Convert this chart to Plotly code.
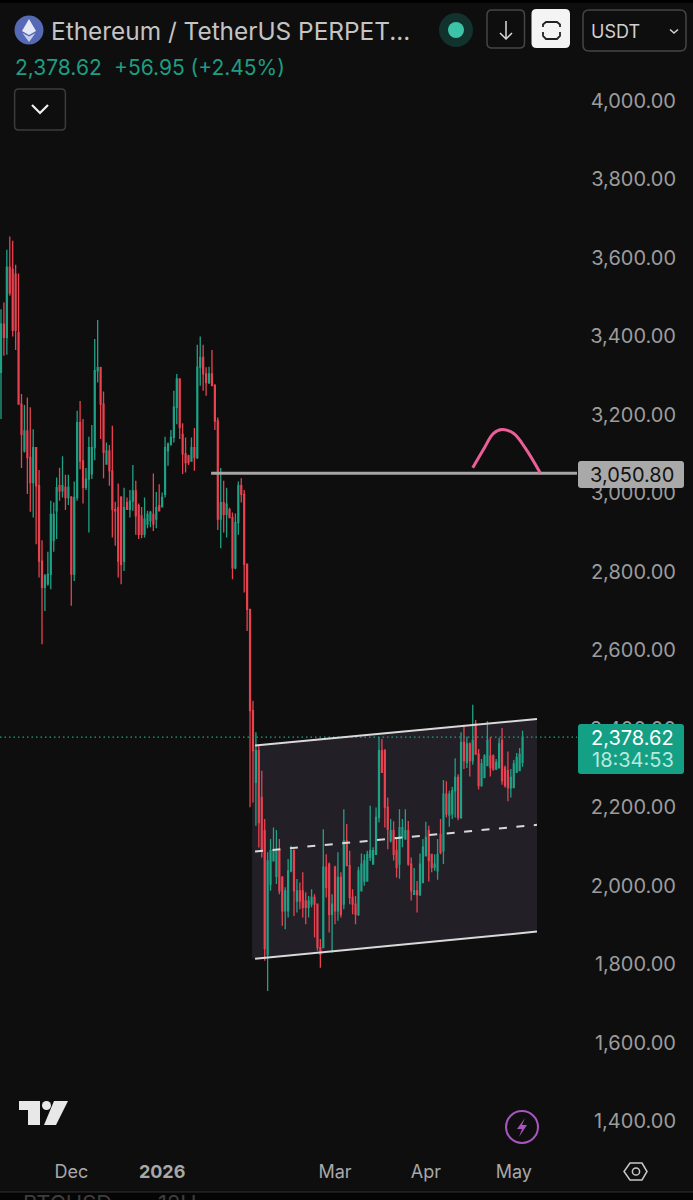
import pandas as pd
import plotly.graph_objects as go

W, H = 693, 1200
BG = "#0e0e0e"; GREEN = "#1fa186"; RED = "#e8414f"; TICK = "#9c9c9c"
FONT = "Inter"

opens = [3308,3431,3397,3576,3570,3558,3409,3227,3108,3159,3091,3027,3116,3019,2827,2760,2769,2793,2880,2955,3019,3006,3015,2989,2989,2794,2989,3180,3082,3015,3036,3049,3116,3312,3320,3227,3074,3108,3057,2959,2963,2989,2827,2976,2959,
 2980,3006,2968,2942,2895,2921,2930,2946,2934,2968,2965,2997,3108,3125,3142,3219,3291,3150,3100,3095,3082,3116,3091,3321,3346,3304,3282,3304,3274,3184,2934,2976,2946,2958,2938,2810,2925,3019,2997,2819,2704,
 2446,2263,2344,2225,2140,1825,2004,2063,2024,2089,2021,1936,1936,2038,2089,1961,1987,1987,1961,1945,1953,1970,1953,1842,1842,2047,2055,1927,2047,1936,2021,1953,2114,2051,1970,1953,1927,1987,2012,2012,2072,2055,2080,2174,2344,2344,2200,
 2115,2140,2089,2055,2123,2119,2140,2055,1978,1987,1977,2008,2076,2140,2080,2047,2038,2131,2089,2233,2180,2183,2242,2276,2174,2365,2314,2361,2319,2412,2335,2255,2276,2306,2331,2331,2297,2300,2370,2301,2293,2249,2250,2289,2293,2314]
highs = [3469,3486,3620,3654,3643,3582,3560,3253,3225,3244,3219,3163,3118,3059,2880,2794,2851,2981,2976,3040,3065,3094,3047,3047,2993,3030,3210,3235,3189,3064,3144,3174,3393,3441,3322,3259,3129,3123,3172,2978,3025,2993,3014,2989,3008,
 3072,3032,2974,2965,2989,2955,2955,3050,3003,3023,3002,3144,3129,3161,3261,3304,3291,3178,3142,3098,3142,3166,3378,3399,3378,3321,3322,3365,3278,3193,3064,3032,3014,2963,2951,2948,3030,3038,3008,2821,2704,
 2471,2391,2357,2293,2170,2085,2119,2148,2142,2119,2025,1996,2068,2102,2093,2017,2008,2034,1983,1974,1991,1978,1953,1864,2144,2080,2059,1978,2051,2085,2034,2195,2157,2089,1991,1974,2048,2082,2080,2089,2204,2098,2199,2378,2374,2348,2225,
 2170,2164,2123,2195,2170,2195,2165,2072,2045,2012,2082,2119,2163,2153,2080,2080,2119,2170,2269,2266,2242,2252,2325,2284,2391,2410,2380,2365,2461,2422,2348,2323,2335,2419,2378,2334,2323,2376,2402,2306,2342,2297,2320,2338,2351,2395]
lows = [3189,3350,3353,3503,3399,3365,3227,3064,3104,2998,2953,2938,2870,2785,2615,2700,2764,2755,2851,2883,2981,2989,2957,2970,2713,2776,2981,3061,2974,3008,2900,3036,3084,3282,3138,3038,3074,3019,2887,2866,2785,2768,2802,2959,2938,
 2955,2894,2883,2885,2887,2911,2913,2904,2911,2955,2965,2989,3070,3121,3129,3176,3138,3049,3053,3072,3081,3057,3087,3274,3261,3248,3278,3274,3161,2906,2860,2900,2887,2938,2781,2806,2894,2976,2747,2649,2200,
 2212,2153,2097,2072,1809,1732,1987,2063,2004,1978,1898,1889,1919,2034,1923,1932,1940,1919,1902,1919,1945,1868,1834,1791,1842,1970,1881,1830,1902,1911,1919,1940,2051,1953,1927,1902,1923,1987,2000,2012,2063,2055,2080,2161,2289,2148,2093,
 2110,2064,2021,2018,2098,2119,2051,1962,1978,1932,1974,2006,2076,2011,2034,2038,2015,2080,2055,2174,2150,2170,2174,2167,2170,2297,2300,2278,2308,2334,2245,2252,2274,2306,2278,2293,2295,2300,2257,2250,2215,2225,2250,2289,2293,2303]
closes = [3431,3397,3576,3510,3415,3415,3227,3150,3159,3091,3027,3116,3019,2827,2760,2789,2793,2946,2946,3014,3006,3019,2989,3015,2794,2989,3180,3082,3015,3036,3116,3116,3312,3320,3227,3104,3108,3057,2959,2955,2827,2819,2963,2959,2980,
 3006,2942,2895,2895,2934,2946,2951,2921,2963,2955,2989,3116,3125,3142,3219,3291,3168,3100,3078,3078,3116,3091,3321,3346,3304,3282,3304,3274,3184,2934,2976,2946,2972,2938,2810,2925,3019,2997,2819,2704,2446,
 2344,2344,2161,2089,1840,2063,2089,2089,2089,1987,1936,1987,2038,2089,1987,1987,1961,1945,1945,1961,1970,1953,1842,1825,2047,1996,1927,1953,1936,2021,1927,2114,2051,1970,1953,1927,2038,2055,2063,2080,2089,2089,2174,2344,2289,2200,2144,
 2140,2080,2047,2148,2148,2140,2055,1987,1987,1977,2055,2098,2123,2064,2047,2055,2080,2084,2233,2183,2233,2242,2276,2174,2365,2319,2361,2319,2370,2335,2255,2310,2331,2370,2301,2297,2314,2361,2267,2255,2250,2276,2310,2327,2335,2378.62]
dates = pd.date_range("2025-11-07", periods=len(opens), freq="D")

price_ticks = [1400,1600,1800,2000,2200,2400,2600,2800,3000,3200,3400,3600,3800,4000]
time_ticks = ["2025-12-01","2026-01-01","2026-03-01","2026-04-01","2026-05-01"]
time_labels = ["Dec","<b>2026</b>","Mar","Apr","May"]

level_price = 3050.80
last_price = 2378.62
line_span = ["2026-01-17T17:00","2026-05-22T14:00"]
last_span = ["2025-11-06T16:00","2026-05-22T14:00"]
channel_x = ["2026-02-01T17:00","2026-05-08T22:00"]
channel_top = [2357,2425]
channel_mid = [2087,2155]
channel_bot = [1814,1883]
fill_x = ["2026-01-31_17:00","2026-05-08_22:00"]
arc_x = ["2026-04-17","2026-04-21","2026-04-24","2026-04-27","2026-05-01","2026-05-05","2026-05-10"]
arc_y = [3065,3116,3152,3162,3152,3114,3052]

def px(x): return x / W
def py(y): return 1 - y / H

fig = go.Figure()
fig.add_trace(go.Candlestick(
    x=dates, open=opens, high=highs, low=lows, close=closes, whiskerwidth=0,
    increasing=dict(line=dict(color=GREEN, width=1.3), fillcolor=GREEN),
    decreasing=dict(line=dict(color=RED, width=1.3), fillcolor=RED),
    showlegend=False))
LN = "#d9d9d9"
fig.add_trace(go.Scatter(x=last_span, y=[last_price]*2, mode="lines", line=dict(color="#1fa186", width=1.2, dash="1.5px 3px"), showlegend=False))
fig.add_trace(go.Scatter(x=channel_x, y=channel_top, mode="lines", line=dict(color=LN, width=2), showlegend=False))
fig.add_trace(go.Scatter(x=channel_x, y=channel_bot, mode="lines", line=dict(color=LN, width=2), showlegend=False))
fig.add_trace(go.Scatter(x=channel_x, y=channel_mid, mode="lines", line=dict(color=LN, width=2, dash="8px 9.5px"), showlegend=False))
fig.add_trace(go.Scatter(x=line_span, y=[level_price]*2, mode="lines", line=dict(color="#a6a6a6", width=3), showlegend=False))
fig.add_trace(go.Scatter(x=arc_x, y=arc_y, mode="lines", line=dict(color="#ea5f98", width=3, shape="spline"), showlegend=False))

shapes = []
# channel fill, under the candles
shapes.append(dict(type="path", layer="below", xref="x", yref="y", line=dict(width=0), fillcolor="#231f27",
    path=f"M {fill_x[0]},{channel_top[0]} L {fill_x[1]},{channel_top[1]} L {fill_x[1]},{channel_bot[1]} L {fill_x[0]},{channel_bot[0]} Z"))

def P(pts, close=True):
    s = " ".join(("M" if i == 0 else "L") + f" {px(x):.5f},{py(y):.5f}" for i, (x, y) in enumerate(pts))
    return s + (" Z" if close else "")

def rrect(x0, y0, x1, y1, r):
    f = lambda x, y: f"{px(x):.5f},{py(y):.5f}"
    return (f"M {f(x0+r,y0)} L {f(x1-r,y0)} Q {f(x1,y0)} {f(x1,y0+r)} L {f(x1,y1-r)} Q {f(x1,y1)} {f(x1-r,y1)} "
            f"L {f(x0+r,y1)} Q {f(x0,y1)} {f(x0,y1-r)} L {f(x0,y0+r)} Q {f(x0,y0)} {f(x0+r,y0)} Z")

def add_path(path, fill=None, color=None, width=0):
    d = dict(type="path", xref="paper", yref="paper", layer="above", path=path, line=dict(width=width, color=color or "rgba(0,0,0,0)"))
    if fill: d["fillcolor"] = fill
    shapes.append(d)

def circle(cx, cy, r, fill=None, color=None, width=0):
    d = dict(type="circle", xref="paper", yref="paper", layer="above", x0=px(cx-r), x1=px(cx+r), y0=py(cy+r), y1=py(cy-r),
             line=dict(width=width, color=color or "rgba(0,0,0,0)"))
    if fill: d["fillcolor"] = fill
    shapes.append(d)

# price tags
add_path(rrect(578, 461, 684, 488, 3), fill="#a9a9a9")
add_path(rrect(578, 724, 684, 774, 3), fill="#14a085")
# top and bottom edges
add_path(P([(0,0),(W,0),(W,3),(0,3)]), fill="#000000")
add_path(P([(0,1192),(W,1192),(W,H),(0,H)]), fill="#050505")
add_path(P([(0,1192),(W,1192)], close=False), color="#333333", width=1)
# ethereum logo
circle(29, 30, 14.5, fill="#5569b5")
add_path(P([(29,19),(36,31),(29,35),(22,31)]), fill="#e6e9f5")
add_path(P([(29,36.5),(35.5,33),(29,42),(22.5,33)]), fill="#c9cfea")
# live dot
circle(456, 30, 17, fill="#12322d")
circle(456, 30, 8, fill="#3cc4a9")
# down button
add_path(rrect(487, 10, 524.5, 48, 5), color="#454545", width=1.5)
add_path(P([(506,21),(506,39)], close=False), color="#dddddd", width=1.5)
add_path(P([(500,33),(506,39),(512,33)], close=False), color="#dddddd", width=1.5)
# white button
add_path(rrect(531.5, 9, 570, 48, 5), fill="#f4f4f4")
add_path(P([(543,27),(543,24.5),(546,22),(557,22),(560,24.5),(560,27)], close=False), color="#222222", width=1.8)
add_path(P([(543,32),(543,36),(546,39),(557,39),(560,36),(560,32)], close=False), color="#222222", width=1.8)
# USDT box
add_path(rrect(583, 10, 686, 51, 6), color="#454545", width=1.5)
add_path(P([(670,29.5),(674,33),(678,29.5)], close=False), color="#d0d0d0", width=1.6)
# collapse box
add_path(rrect(14.6, 89, 65.4, 130, 4), color="#3c3c3c", width=1.5)
add_path(P([(32,105),(40,113),(48,105)], close=False), color="#f0f0f0", width=2.2)
# TradingView mark
add_path(P([(19,1101),(40,1101),(40,1125),(28,1125),(28,1110),(19,1110)]), fill="#e8e8e8")
circle(46.5, 1105.5, 4.5, fill="#e8e8e8")
add_path(P([(54,1101),(68,1101),(56,1125),(44,1125)]), fill="#e8e8e8")
# lightning badge
circle(522, 1127, 16, color="#a855c0", width=2)
add_path(P([(525,1118),(517,1129),(522,1129),(519,1137),(527,1125),(522,1125)]), fill="#a855c0")
# settings hexagon
add_path(P([(630,1163),(642,1163),(647,1171.5),(642,1180),(630,1180),(624,1171.5)]), color="#c8c8c8", width=1.5)
circle(636, 1171.5, 3.6, color="#c8c8c8", width=1.5)

def text(x, y, s, size, color, anchor="left", weight=None):
    fig.add_annotation(xref="paper", yref="paper", x=px(x), y=py(y), text=s, showarrow=False, xanchor=anchor, yanchor="middle",
                       font=dict(family=FONT, size=size, color=color, weight=weight), borderpad=0)

text(50, 31, "Ethereum / TetherUS PERPET...", 24.4, "#c4c4c4")
text(14, 68, "2,378.62", 21, "#1f9d82")
text(113, 68, "+56.95 (+2.45%)", 21, "#1f9d82")
text(590, 31, "USDT", 18, "#d0d0d0")
text(675, 475, "3,050.80", 20, "#111111", "right")
text(675, 738, "2,378.62", 20, "#ffffff", "right")
text(675, 760, "18:34:53", 20, "#b9e8de", "right")
text(22, 1203, "BTCUSD", 22, "#3d3d3d")
text(157, 1203, "12H", 22, "#3d3d3d")

fig.update_layout(
    width=W, height=H, margin=dict(l=0, r=0, t=0, b=0), paper_bgcolor=BG, plot_bgcolor=BG,
    shapes=shapes, showlegend=False, font=dict(family=FONT), boxgap=0.55,
    xaxis=dict(range=["2025-11-06T16:00","2026-07-01T04:00"], domain=[0,1], rangeslider=dict(visible=False), showgrid=False,
               zeroline=False, showline=False, tickmode="array", tickvals=time_ticks, ticktext=time_labels, ticks="",
               ticklabelposition="inside", ticklabelstandoff=15, tickfont=dict(size=18, color="#a8a8a8", family=FONT)),
    yaxis=dict(range=[1199.2,4256.6], domain=[0,1], side="right", showgrid=False, zeroline=False, showline=False,
               tickmode="array", tickvals=price_ticks, tickformat=",.2f", ticks="", ticklabelposition="inside",
               ticklabelstandoff=14, tickfont=dict(size=20, color=TICK, family=FONT)),
)

fig.write_html("out.html", config=dict(displayModeBar=False), post_script="document.body.style.margin='0';document.body.style.background='#0e0e0e';")
